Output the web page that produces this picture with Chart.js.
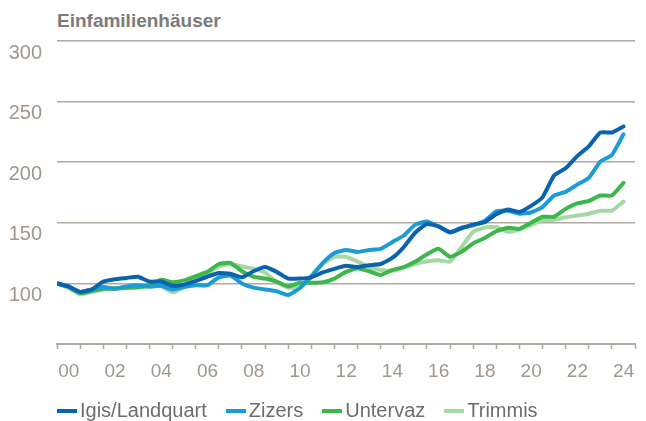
<!DOCTYPE html>
<html>
<head>
<meta charset="utf-8">
<script src="https://cdn.jsdelivr.net/npm/chart.js@4/dist/chart.umd.min.js"></script>
<style>
  html, body { margin: 0; padding: 0; background: #ffffff; }
  #wrap { position: relative; width: 646px; height: 421px; overflow: hidden; }
  #title { position: absolute; left: 57px; top: 11px; font: bold 19px 'Liberation Sans', Arial, sans-serif; line-height: 19px; color: #7b7b7b; white-space: nowrap; }
  #chart { position: absolute; left: 0; top: 0; }
  #legend { position: absolute; left: 57px; top: 401px; display: flex; gap: 19px; font: 20px 'Liberation Sans', Arial, sans-serif; line-height: 19px; color: #6d6d6d; white-space: nowrap; }
  #legend .item { display: flex; align-items: center; }
  #legend .mark { display: inline-block; width: 20px; height: 4px; margin-right: 3px; }
</style>
</head>
<body>
<div id="wrap">
  <div id="title">Einfamilienhäuser</div>
  <canvas id="chart" width="646" height="421"></canvas>
  <div id="legend"></div>
</div>
<script>
// ---- data (index values, semi-annual) ----
const periods = [2000, 2000.5, 2001, 2001.5, 2002, 2002.5, 2003, 2003.5, 2004, 2004.5,
  2005, 2005.5, 2006, 2006.5, 2007, 2007.5, 2008, 2008.5, 2009, 2009.5,
  2010, 2010.5, 2011, 2011.5, 2012, 2012.5, 2013, 2013.5, 2014, 2014.5,
  2015, 2015.5, 2016, 2016.5, 2017, 2017.5, 2018, 2018.5, 2019, 2019.5,
  2020, 2020.5, 2021, 2021.5, 2022, 2022.5, 2023, 2023.5, 2024, 2024.5];

const seriesNames = ['Igis/Landquart', 'Zizers', 'Untervaz', 'Trimmis'];
const seriesColors = ['#0b63ae', '#1b9bd8', '#3db64b', '#a6d8a1'];

const igis = [100, 97.5, 93, 95, 101.5, 103.5, 104.5, 105.5, 101.5, 101.5,
  98, 99, 102, 105.5, 108.5, 108, 105, 110, 113.5, 109.5,
  104, 104, 105, 109, 112, 114.5, 113.5, 115, 116, 121,
  130, 142, 149, 147, 142, 145.5, 148.5, 150.5, 157, 161,
  159, 164, 171, 189, 195, 205, 213, 224.5, 224.5, 229.5];

const zizers = [100, 97.5, 93, 95, 97, 95.5, 97.5, 98.5, 97.5, 98,
  95, 97, 98.5, 98.5, 105, 106.5, 100, 96.5, 95, 93.5,
  90.5, 96, 106, 117, 125, 127.5, 126, 127.5, 128.5, 134,
  139.5, 148.5, 151, 147, 142.5, 146, 148, 151.5, 159.5, 160,
  157.5, 158.5, 163, 172.5, 175.5, 181.5, 187, 200.5, 206, 223];

const untervaz = [100, 97, 92, 93.5, 95.5, 96, 96.5, 97, 98.5, 103,
  101, 102.5, 106, 109.5, 116, 117, 110, 105.5, 104, 101.5,
  97.5, 100.5, 100.5, 101, 104, 109.5, 112.5, 110, 107, 111,
  113.5, 118, 124, 128.5, 122, 126, 133, 137.5, 143, 146,
  145, 150, 155, 155, 161.5, 166, 168, 172.5, 172.5, 183];

const trimmis = [100, 96.5, 91, 93, 95, 95.5, 96, 96.5, 97, 98,
  92.5, 97, 104, 108, 114, 116, 114, 112, 109, 101,
  96.5, 97, 105, 116, 122, 122, 118, 113.5, 111, 110.5,
  113, 116, 118, 119, 118, 130, 142.5, 146, 146.5, 142.5,
  144.5, 148, 152, 152.5, 154.5, 156, 157.5, 160, 160, 167.5];

const yTicks = [50, 100, 150, 200, 250, 300];
const xLabelYears = [2000, 2002, 2004, 2006, 2008, 2010, 2012, 2014, 2016, 2018, 2020, 2022, 2024];

// ---- build ----
const allSeries = [igis, zizers, untervaz, trimmis];
const toPoints = arr => arr.map((v, i) => ({ x: periods[i], y: v }));

const gridColor = '#b1a99f';
const labelColor = '#a1978d';

const datasets = allSeries.map((arr, i) => ({
  label: seriesNames[i],
  data: toPoints(arr),
  borderColor: seriesColors[i],
  backgroundColor: seriesColors[i],
  borderWidth: 4,
  pointRadius: 0,
  tension: 0.15,
  borderJoinStyle: 'round',
  borderCapStyle: 'round',
  fill: false
}));

new Chart(document.getElementById('chart'), {
  type: 'line',
  data: { datasets },
  options: {
    responsive: false,
    devicePixelRatio: 1,
    animation: false,
    layout: { padding: { top: 41, right: 0, bottom: 32, left: 0 } },
    plugins: { legend: { display: false }, tooltip: { enabled: false }, title: { display: false } },
    scales: {
      x: {
        type: 'linear',
        min: 2000,
        max: 2025,
        afterFit: s => { s.height = 45; },
        afterBuildTicks: s => { s.ticks = []; for (let y = 2000; y <= 2025; y++) s.ticks.push({ value: y }); },
        ticks: {
          autoSkip: false,
          maxRotation: 0,
          padding: 11,
          labelOffset: 11.75,
          color: labelColor,
          font: { family: "'Liberation Sans', Arial, sans-serif", size: 19 },
          callback: v => xLabelYears.includes(v) ? String(v).slice(2) : ''
        },
        grid: { drawOnChartArea: false, drawTicks: true, tickLength: 5, tickColor: gridColor, tickWidth: 1.5 },
        border: { display: true, color: gridColor, width: 2 }
      },
      y: {
        min: 50,
        max: 300,
        afterFit: s => { s.width = 57; },
        afterBuildTicks: s => { s.ticks = yTicks.map(v => ({ value: v })); },
        ticks: {
          padding: 15,
          labelOffset: 12,
          color: labelColor,
          font: { family: "'Liberation Sans', Arial, sans-serif", size: 20 },
          callback: v => v === 50 ? '' : String(v)
        },
        grid: {
          drawTicks: false,
          lineWidth: 1.5,
          color: ctx => (ctx.tick && ctx.tick.value === 50) ? 'rgba(0,0,0,0)' : gridColor
        },
        border: { display: false }
      }
    }
  }
});

// ---- HTML legend from the series arrays ----
const legend = document.getElementById('legend');
seriesNames.forEach((name, i) => {
  const item = document.createElement('span');
  item.className = 'item';
  const mark = document.createElement('span');
  mark.className = 'mark';
  mark.style.background = seriesColors[i];
  const txt = document.createElement('span');
  txt.textContent = name;
  item.appendChild(mark);
  item.appendChild(txt);
  legend.appendChild(item);
});
</script>
</body>
</html>
